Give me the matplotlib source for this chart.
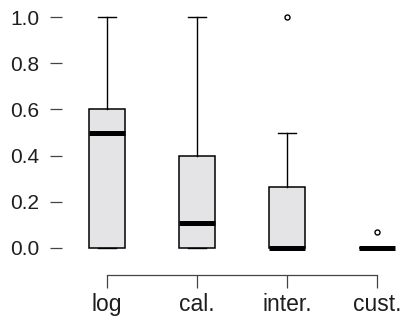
import matplotlib
matplotlib.use("Agg")
import matplotlib.pyplot as plt

categories = ["log", "cal.", "inter.", "cust."]
q1 = [0.0, 0.0, 0.0, 0.0]
medians = [0.50, 0.108, 0.0, 0.0]
q3 = [0.60, 0.40, 0.265, 0.0]
whisker_low = [0.0, 0.0, 0.0, 0.0]
whisker_high = [1.0, 1.0, 0.50, 0.0]
outliers = [[], [], [1.0], [0.07]]
y_ticks = [0.0, 0.2, 0.4, 0.6, 0.8, 1.0]

plt.rcParams["font.family"] = ["Liberation Sans", "DejaVu Sans"]

W, H = 409, 322
fig = plt.figure(figsize=(W / 100, H / 100), dpi=100)
left_px, right_px = 62, 409
top_px, bottom_px = 7.8, 257.2
ax = fig.add_axes([left_px / W, 1 - bottom_px / H,
                   (right_px - left_px) / W, (bottom_px - top_px) / H])

stats = []
for i, name in enumerate(categories):
    stats.append(dict(label=name, q1=q1[i], med=medians[i], q3=q3[i],
                      whislo=whisker_low[i], whishi=whisker_high[i],
                      fliers=outliers[i]))

ax.bxp(stats, positions=range(1, len(categories) + 1), widths=0.4,
       patch_artist=True, showfliers=True,
       boxprops=dict(facecolor="#e4e4e6", edgecolor="black", linewidth=1.1),
       medianprops=dict(color="black", linewidth=3.6, solid_capstyle="butt"),
       whiskerprops=dict(color="black", linewidth=1.0),
       capprops=dict(color="black", linewidth=1.0),
       capwidths=0.19,
       flierprops=dict(marker="o", markersize=3.6, markerfacecolor="white",
                       markeredgecolor="black", markeredgewidth=1.0))

ax.set_xlim(0.5, 0.5 + (right_px - left_px) / 90)
ax.set_ylim(-0.04, 1.04)
ax.set_facecolor("none")

for s in ["top", "right", "left"]:
    ax.spines[s].set_visible(False)
ax.spines["bottom"].set_position(("outward", 13))
ax.spines["bottom"].set_bounds(1, len(categories))
ax.spines["bottom"].set_color("#444444")
ax.spines["bottom"].set_linewidth(0.9)

ax.set_yticks(y_ticks)
ax.set_yticklabels([f"{v:.1f}" for v in y_ticks])
ax.set_xticks(range(1, len(categories) + 1))
ax.set_xticklabels(categories)
ax.tick_params(axis="y", length=9, width=0.9, color="#444444", pad=7.5,
               labelsize=15, labelcolor="#1e1e1e")
ax.tick_params(axis="x", length=9, width=0.9, color="#444444", pad=4,
               labelsize=16.5, labelcolor="#1e1e1e")

fig.savefig("out.png", dpi=100)
